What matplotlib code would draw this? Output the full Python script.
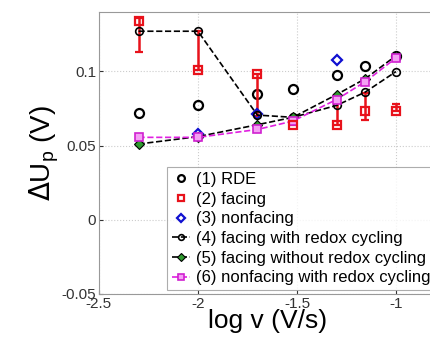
import numpy as np
import matplotlib.pyplot as plt

plt.rcParams['font.family'] = ['Liberation Sans', 'DejaVu Sans']

# log of scan rate (V/s)
logv = [-2.30, -2.0, -1.70, -1.52, -1.30, -1.155, -1.0]

# (1) RDE
rde = [0.072, 0.077, 0.0845, 0.088, 0.0975, 0.1035, 0.1105]

# (2) facing, with asymmetric error bars
facing = [0.134, 0.101, 0.098, 0.064, 0.064, 0.0735, 0.0735]
facing_lo = [0.021, 0.0, 0.028, 0.0, 0.0, 0.006, 0.0]
facing_hi = [0.002, 0.026, 0.0, 0.005, 0.020, 0.012, 0.0045]

# (3) nonfacing (only the visible points)
nonfacing_x = [-2.0, -1.70, -1.30]
nonfacing = [0.058, 0.071, 0.1075]

# (4) facing with redox cycling
facing_rc = [0.127, 0.127, 0.0705, 0.069, 0.077, 0.086, 0.0998]
# (5) facing without redox cycling
facing_norc = [0.051, 0.056, 0.064, 0.069, 0.0843, 0.095, 0.1105]
# (6) nonfacing with redox cycling
nonfacing_rc = [0.0555, 0.0555, 0.0608, 0.0665, 0.081, 0.093, 0.109]

fig = plt.figure(figsize=(4.30, 3.41), dpi=100)
ax = fig.add_axes([0.230, 0.138, 0.783, 0.827])

h1, = ax.plot(logv, rde, 'o', ls='none', mfc='none', mec='black', ms=6.5, mew=1.6,
              label='(1) RDE')
h2 = ax.errorbar(logv, facing, yerr=[facing_lo, facing_hi], fmt='s', color='#e8121b',
                 mfc='none', mec='#e8121b', ms=6, mew=1.6, elinewidth=1.8, capsize=3,
                 capthick=1.6, label='(2) facing')
h3, = ax.plot(nonfacing_x, nonfacing, 'D', ls='none', mfc='none', mec='#1010d0', ms=5.5,
              mew=1.6, label='(3) nonfacing')
h4, = ax.plot(logv, facing_rc, '--o', color='black', mfc='none', mec='black', ms=5.5,
              mew=1.2, lw=1.2, label='(4) facing with redox cycling')
h5, = ax.plot(logv, facing_norc, '--D', color='black', mfc='#2e9a2e', mec='black', ms=5,
              mew=0.8, lw=1.2, label='(5) facing without redox cycling')
h6, = ax.plot(logv, nonfacing_rc, '--s', color='#e020e0', mfc='#f4a0f4', mec='#d020d0',
              ms=5.5, mew=1.2, lw=1.2, label='(6) nonfacing with redox cycling')

ax.set_xlim(-2.5, -0.8)
ax.set_ylim(-0.05, 0.14)
ax.set_xticks([-2.5, -2, -1.5, -1])
ax.set_xticklabels(['-2.5', '-2', '-1.5', '-1'])
ax.set_yticks([-0.05, 0, 0.05, 0.1])
ax.set_yticklabels(['-0.05', '0', '0.05', '0.1'])
ax.tick_params(direction='in', labelsize=11, colors='#333333', length=3, pad=2)
ax.grid(True, ls=':', color='#cccccc', lw=0.8)
for s in ax.spines.values():
    s.set_color('#999999')

ax.set_xlabel('log v (V/s)', fontsize=19, labelpad=-1)
ax.set_ylabel(r'$\Delta$U$_\mathregular{p}$ (V)', fontsize=20, labelpad=0)

# red legend entry drawn as a plain marker, like the reference
h2_leg = plt.Line2D([], [], ls='none', marker='s', mfc='none', mec='#e8121b', mew=1.6, ms=6)

leg = ax.legend([h1, h2_leg, h3, h4, h5, h6],
                [h1.get_label(), '(2) facing', h3.get_label(), h4.get_label(),
                 h5.get_label(), h6.get_label()],
                loc='upper left', bbox_to_anchor=(167 / 430, 1 - 167 / 341),
                bbox_transform=fig.transFigure, borderaxespad=0, fontsize=12,
                labelspacing=0.28, handlelength=1.1, handletextpad=0.35, borderpad=0.3,
                markerscale=0.75, frameon=True, fancybox=False)
leg.get_frame().set_edgecolor('#999999')
leg.get_frame().set_linewidth(0.8)

fig.savefig('out.png', dpi=100)
